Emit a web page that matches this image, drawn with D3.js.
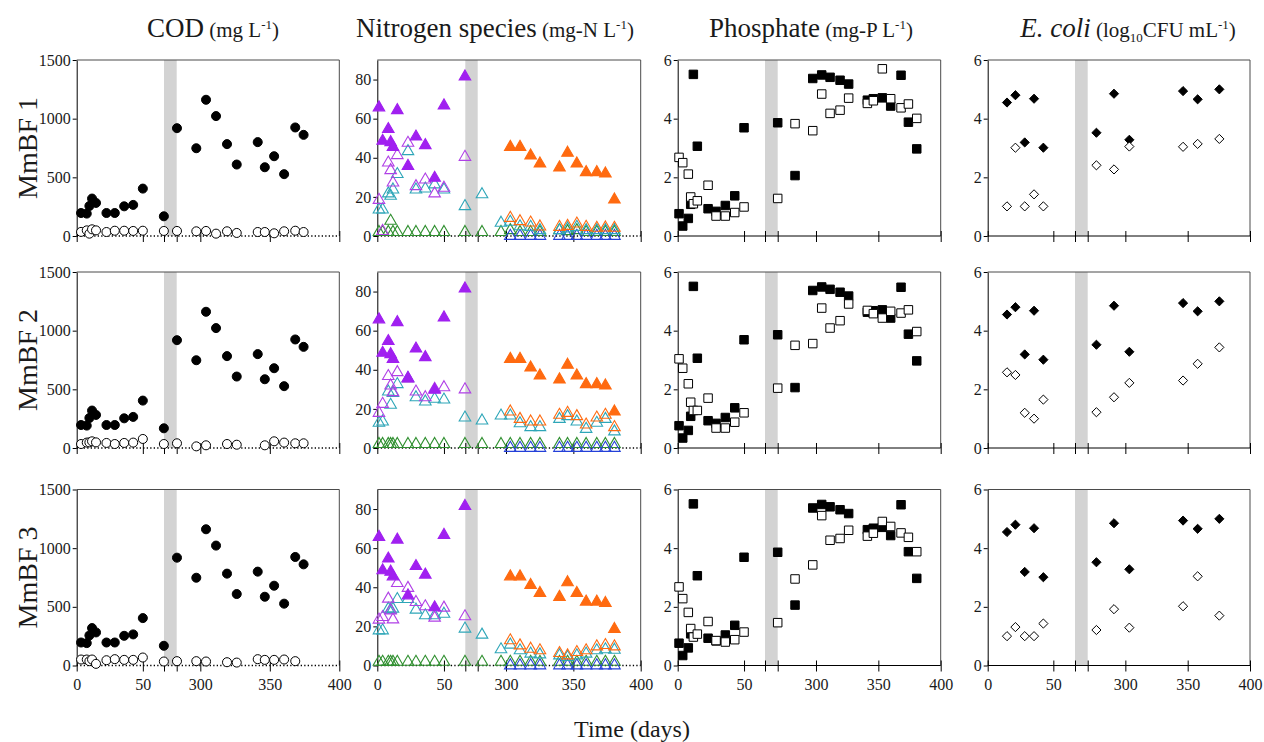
<!DOCTYPE html>
<html>
<head>
<meta charset="utf-8">
<script src="https://cdn.jsdelivr.net/npm/d3@7"></script>
<style>
  body { margin: 0; background: #fff; }
  svg { display: block; }
  text { font-family: "Liberation Serif", "Times New Roman", serif; fill: #1a1a1a; }
</style>
</head>
<body>
<svg id="chart" width="1264" height="742"></svg>
<script>
// ---- data ----
const rowNames = ['MmBF 1', 'MmBF 2', 'MmBF 3'];
const xTickLabels = [0, 50, 300, 350, 400];

// COD (mg/L): influent shared by all reactors, effluent per reactor
const codDays = [3.3, 7.6, 9.6, 11.6, 14.6, 22.5, 28.8, 35.9, 42.7, 50, 65.9,
  283.2, 297.1, 304.1, 311.3, 319.2, 326.2, 341.3, 346.4, 353.1, 360.3, 368.3, 374.3];
const codInfluent = [196, 191, 256, 319, 282, 196, 196, 253, 265, 404, 168,
  919, 748, 1161, 1022, 783, 609, 800, 586, 680, 527, 925, 862];
const codEffluent1 = [35, 48, 20, 57, 48, 34, 45, 45, 43, 45, 43,
  43, 40, 43, 20, 40, 26, 34, 34, 23, 40, 45, 34];
const codEffluent2 = [34, 46, 48, 57, 48, 43, 34, 43, 46, 77, 34,
  40, 14, 23, null, 34, 28, null, 23, 57, 46, 40, 40];
const codEffluent3 = [51, 51, 37, 51, 14, 45, 54, 48, 48, 68, 34,
  37, 37, 34, null, 28, 25, 54, 48, 48, 51, 37, null];

// Nitrogen species (mg-N/L)
const nDays = [1.25, 4, 8.25, 10, 11.75, 15, 23, 29, 36, 43, 50, 65.75,
  282.2, 296.3, 303.2, 310.4, 318.3, 325.2, 339.7, 345.7, 352.6, 359.5, 367.4, 373.8, 380.5];
const nInfluentA = [65.7, 48.6, 54.6, 47.9, 45.5, 64.3, 35.8, 50.8, 46.4, 29.7, 66.7, 81.5,
  null, null, null, null, null, null, null, null, null, null, null, null, null];
const nInfluentB = [null, null, null, null, null, null, null, null, null, null, null, null,
  null, null, 45.5, 45.5, 41.1, 37.0, 35.0, 42.5, 37.0, 32.6, 32.6, 31.9, 18.6];
const nPurple1 = [18.4, 2.5, 37.5, 33.6, 27.3, 41.3, 47.6, 25.4, 28.8, 21.7, 24.6, 40.4];
const nPurple2 = [17.9, 22.5, 36.7, 31.9, 28.5, 38.7, 35.3, 28.8, 25.9, 30.2, 31.0, 29.9];
const nPurple3 = [23.4, 24.7, 34.1, 28.1, 23.5, 42.1, 39.6, 32.4, 30.2, 24.4, 29.5, 25.1];
const nTeal1 = [13.5, 13.5, 21.7, 20.5, 23.7, 31.6, 43.3, 23.7, 24.2, 26.3, 23.7, 15.2,
  21.3, 6.7, 7.2, 4.9, 4.6, 2.9, 2.9, 3.8, 4.6, 2.9, 2.9, 2.9, 2.9];
const nTeal2 = [12.8, 13.5, 28.8, 22.0, 28.1, 32.6, 35.6, 25.9, 23.7, 25.1, 24.7, 15.5,
  14.0, 16.5, 16.5, 12.6, 10.6, 10.6, 14.8, 16.2, 13.5, 9.7, 12.8, 14.8, 8.4];
const nTeal3 = [17.9, 17.9, 29.0, 28.5, 29.0, 33.9, 33.9, 28.5, 25.6, 25.6, 26.4, 18.8,
  15.7, 8.2, 10.6, 7.7, 6.0, 5.6, 5.1, 4.3, 5.1, 6.0, 7.7, 8.2, 8.0];
const nOrange1 = [null, null, null, null, null, null, null, null, null, null, null, null,
  null, null, 9.2, 7.5, 6.8, 4.8, 4.6, 5.1, 6.3, 4.6, 4.1, 4.3, 4.1];
const nOrange2 = [null, null, null, null, null, null, null, null, null, null, null, null,
  null, null, 18.6, 14.8, 13.5, 13.5, 16.9, 17.9, 16.2, 11.9, 15.5, 16.9, 10.6];
const nOrange3 = [null, null, null, null, null, null, null, null, null, null, null, null,
  null, null, 12.8, 10.2, 8.5, 7.7, 6.3, 5.1, 6.8, 7.7, 9.7, 10.4, 9.7];
const nGreen1 = [2, 2, 2, 7.7, 2, 2, 2, 2, 2, 2, 2, 2,
  2, 2, 2.9, 2, 2, 2, 2.9, 2.4, 2.9, 2, 2, 2, 2];
const nGreen2 = [2, 2, 2, 2, 2, 2, 2, 2, 2, 2, 2, 2,
  2, 2, 2, 2, 2, 2, 2, 2, 2, 2, 2, 2, 2];
const nGreen3 = [1.8, 1.8, 1.8, 1.8, 1.8, 1.8, 1.8, 1.8, 1.8, 1.8, 1.8, 1.8,
  1.8, 1.8, 1.8, 1.8, 1.8, 1.8, 1.8, 1.8, 1.8, 1.8, 1.8, 1.8, 1.8];
const nBlue = [null, null, null, null, null, null, null, null, null, null, null, null,
  null, null, 0, 0, 0, 0, 0, 0, 0, 0, 0, 0, 0];

// Phosphate (mg-P/L)
const pDays = [1.0, 3.8, 8.0, 9.8, 11.8, 14.8, 22.9, 28.9, 35.9, 43.0, 50.0,
  269.3, 283.2, 297.4, 304.6, 311.3, 319.3, 326.2, 341.2, 346.0, 353.2, 359.9, 368.2, 374.1, 380.8];
const pInfluent = [0.76, 0.34, 0.60, 1.08, 5.51, 3.06, 0.93, 0.84, 1.04, 1.37, 3.69,
  3.86, 2.06, 5.37, 5.49, 5.41, 5.31, 5.18, 4.63, 4.68, 4.71, 4.43, 5.48, 3.88, 2.97];
const pEffluent1 = [2.68, 2.50, 2.11, 1.33, 1.10, 1.20, 1.73, 0.68, 0.68, 0.80, 0.99,
  1.28, 3.83, 3.59, 4.84, 4.18, 4.29, 4.70, 4.52, 4.61, 5.70, 4.68, 4.37, 4.50, 4.01];
const pEffluent2 = [3.04, 2.72, 2.19, 1.56, 1.28, 1.28, 1.70, 0.68, 0.68, 0.88, 1.20,
  2.04, 3.50, 3.56, 4.77, 4.09, 4.34, 4.91, 4.69, 4.58, 4.43, 4.66, 4.60, 4.71, 3.97];
const pEffluent3 = [2.68, 2.28, 1.81, 1.26, 0.97, 1.07, 1.50, 0.85, 0.80, 0.88, 1.14,
  1.46, 2.95, 3.43, 5.11, 4.27, 4.33, 4.61, 4.41, 4.51, 4.91, 4.74, 4.52, 4.37, 3.88];

// E. coli (log10 CFU/mL)
const eDays = [14.7, 21.1, 28.2, 35.3, 42.4, 276.8, 290.9, 303.2, 346.3, 358.0, 375.4];
const eInfluent = [4.55, 4.80, 3.19, 4.68, 3.01, 3.52, 4.85, 3.28, 4.94, 4.66, 5.00];
const eEffluent1 = [1.01, 3.01, 1.01, 1.42, 1.01, 2.41, 2.27, 3.05, 3.04, 3.14, 3.31];
const eEffluent2 = [2.58, 2.49, 1.20, 1.00, 1.65, 1.22, 1.73, 2.22, 2.30, 2.87, 3.43];
const eEffluent3 = [1.00, 1.31, 1.00, 1.00, 1.43, 1.21, 1.92, 1.29, 2.02, 3.04, 1.70];

// ---- layout ----
const serif = '"Liberation Serif", "Times New Roman", serif';
const rowTop = [60, 272, 489.5];
const rowH = 176;
const cols = [
  { left: 76.7, brkA: 164, brkB: 176.7, right: 339.3, seg1: [0, 66], seg2: [283, 400],
    yMax: 1500, yTicks: [0, 500, 1000, 1500], dotted: true, titleX: 213 },
  { left: 377.3, brkA: 465.3, brkB: 477.7, right: 640.7, seg1: [0, 66], seg2: [279, 400],
    yMax: 90, yTicks: [0, 20, 40, 60, 80], dotted: true, titleX: 495 },
  { left: 677.7, brkA: 765, brkB: 777.7, right: 940.7, seg1: [0, 65.8], seg2: [269.3, 400],
    yMax: 6, yTicks: [0, 2, 4, 6], dotted: false, titleX: 811 },
  { left: 987.7, brkA: 1075, brkB: 1087.7, right: 1250, seg1: [0, 66.5], seg2: [269.8, 400],
    yMax: 6, yTicks: [0, 2, 4, 6], dotted: false, titleX: 1128 }
];

const purple = '#a020f0', purpleOpen = '#b040e6', teal = '#2ea6b8', orange = '#ff6a10',
  green = '#2f8f2f', blue = '#2440d8';

const diamond = {
  draw(ctx, size) {
    const h = Math.sqrt(size / 2);
    ctx.moveTo(0, -h); ctx.lineTo(h, 0); ctx.lineTo(0, h); ctx.lineTo(-h, 0); ctx.closePath();
  }
};
const shapes = {
  circle: [d3.symbolCircle, 64],
  tri: [d3.symbolTriangle, 58],
  square: [d3.symbolSquare, 72],
  diamond: [diamond, 42]
};

const effCOD = [codEffluent1, codEffluent2, codEffluent3];
const purpleN = [nPurple1, nPurple2, nPurple3];
const tealN = [nTeal1, nTeal2, nTeal3];
const orangeN = [nOrange1, nOrange2, nOrange3];
const greenN = [nGreen1, nGreen2, nGreen3];
const effP = [pEffluent1, pEffluent2, pEffluent3];
const effE = [eEffluent1, eEffluent2, eEffluent3];

function seriesFor(ci, ri) {
  if (ci === 0) return [
    { x: codDays, y: effCOD[ri], shape: 'circle', fill: '#fff', stroke: '#000' },
    { x: codDays, y: codInfluent, shape: 'circle', fill: '#000', stroke: '#000' }
  ];
  if (ci === 1) return [
    { x: nDays, y: greenN[ri], shape: 'tri', fill: 'none', stroke: green },
    { x: nDays, y: nBlue, shape: 'tri', fill: 'none', stroke: blue },
    { x: nDays, y: tealN[ri], shape: 'tri', fill: 'none', stroke: teal },
    { x: nDays, y: orangeN[ri], shape: 'tri', fill: 'none', stroke: orange },
    { x: nDays, y: purpleN[ri], shape: 'tri', fill: 'none', stroke: purpleOpen },
    { x: nDays, y: nInfluentA, shape: 'tri', fill: purple, stroke: purple },
    { x: nDays, y: nInfluentB, shape: 'tri', fill: orange, stroke: orange }
  ];
  if (ci === 2) return [
    { x: pDays, y: pInfluent, shape: 'square', fill: '#000', stroke: '#000' },
    { x: pDays, y: effP[ri], shape: 'square', fill: '#fff', stroke: '#000' }
  ];
  return [
    { x: eDays, y: eInfluent, shape: 'diamond', fill: '#000', stroke: '#000' },
    { x: eDays, y: effE[ri], shape: 'diamond', fill: '#fff', stroke: '#000' }
  ];
}

const svg = d3.select('#chart');

function styleTicks(sel) {
  sel.attr('font-family', null).attr('font-size', null);
  sel.selectAll('line').attr('stroke', '#000');
  sel.selectAll('text')
    .style('font-family', serif)
    .style('font-size', '16px')
    .style('fill', '#1a1a1a');
}

function drawPanel(ci, ri) {
  const c = cols[ci];
  const top = rowTop[ri], y0 = top + rowH;
  const s1 = d3.scaleLinear().domain(c.seg1).range([c.left, c.brkA]);
  const s2 = d3.scaleLinear().domain(c.seg2).range([c.brkB, c.right]);
  const x = v => (v <= c.seg1[1] + 0.01 ? s1(v) : s2(v));
  const y = d3.scaleLinear().domain([0, c.yMax]).range([y0, top]);
  const g = svg.append('g');

  // shaded break period
  g.append('rect')
    .attr('x', c.brkA).attr('y', top)
    .attr('width', c.brkB - c.brkA).attr('height', rowH)
    .attr('fill', '#d3d3d3');

  // frame top + right
  g.append('path')
    .attr('d', `M${c.left},${top}H${c.right}V${y0}`)
    .attr('fill', 'none').attr('stroke', '#4a4a4a').attr('stroke-width', 1);

  // x axis line
  g.append('line')
    .attr('x1', c.left).attr('x2', c.right).attr('y1', y0).attr('y2', y0)
    .attr('stroke', '#000').attr('stroke-width', c.dotted ? 1.3 : 1)
    .attr('stroke-dasharray', c.dotted ? '1.3,2.2' : null);

  // crossing x ticks (labels only on the bottom row)
  const last = ri === 2;
  const fmt = last ? d3.format('d') : () => '';
  const ax = (scale, vals, f) => {
    const a = g.append('g').attr('transform', `translate(0,${y0 - 5})`)
      .call(d3.axisBottom(scale).tickValues(vals).tickSize(11).tickPadding(7).tickFormat(f));
    a.select('.domain').remove();
    styleTicks(a);
  };
  ax(s1, [0, 50], fmt);
  ax(s1, [c.seg1[1]], () => '');
  ax(s2, [c.seg2[0]], () => '');
  ax(s2, [300, 350, 400], fmt);

  // y axis
  const ya = g.append('g').attr('transform', `translate(${c.left},0)`)
    .call(d3.axisLeft(y).tickValues(c.yTicks).tickSize(4).tickSizeOuter(0)
      .tickPadding(2).tickFormat(d3.format('d')));
  ya.select('.domain').attr('stroke', '#000');
  styleTicks(ya);

  // marks
  seriesFor(ci, ri).forEach(s => {
    const [type, size] = shapes[s.shape];
    const sym = d3.symbol().type(type).size(size);
    const pts = s.x.map((d, i) => [d, s.y[i]]).filter(p => p[1] != null);
    g.append('g').selectAll('path').data(pts).enter().append('path')
      .attr('d', sym)
      .attr('transform', p => `translate(${x(p[0])},${y(p[1])})`)
      .attr('fill', s.fill)
      .attr('stroke', s.stroke)
      .attr('stroke-width', s.shape === 'tri' ? 1.1 : 1);
  });
}

cols.forEach((c, ci) => rowNames.forEach((r, ri) => drawPanel(ci, ri)));

// row labels
rowNames.forEach((name, ri) => {
  svg.append('text')
    .attr('transform', `translate(37,${rowTop[ri] + rowH / 2}) rotate(-90)`)
    .attr('text-anchor', 'middle').style('font-size', '28px').text(name);
});

// column titles: [text, size, kind]
const titles = [
  [['COD', 27], [' (mg L', 21], ['-1', 13, 'sup'], [')', 21]],
  [['Nitrogen species', 27], [' (mg-N L', 21], ['-1', 13, 'sup'], [')', 21]],
  [['Phosphate', 27], [' (mg-P L', 21], ['-1', 13, 'sup'], [')', 21]],
  [['E. coli', 27, 'it'], [' (log', 21], ['10', 13, 'sub'], ['CFU mL', 21], ['-1', 13, 'sup'], [')', 21]]
];
titles.forEach((parts, ci) => {
  const t = svg.append('text').attr('x', cols[ci].titleX).attr('y', 37).attr('text-anchor', 'middle');
  let shift = 0;
  parts.forEach(([txt, fs, kind]) => {
    const ts = t.append('tspan').style('font-size', fs + 'px').text(txt);
    if (kind === 'it') ts.style('font-style', 'italic');
    let dy = -shift;
    shift = 0;
    if (kind === 'sup') { dy += -8; shift = -8; }
    if (kind === 'sub') { dy += 5; shift = 5; }
    if (dy) ts.attr('dy', dy);
  });
});

// x axis title
svg.append('text').attr('x', 632).attr('y', 737).attr('text-anchor', 'middle')
  .style('font-size', '24px').text('Time (days)');
</script>
</body>
</html>
